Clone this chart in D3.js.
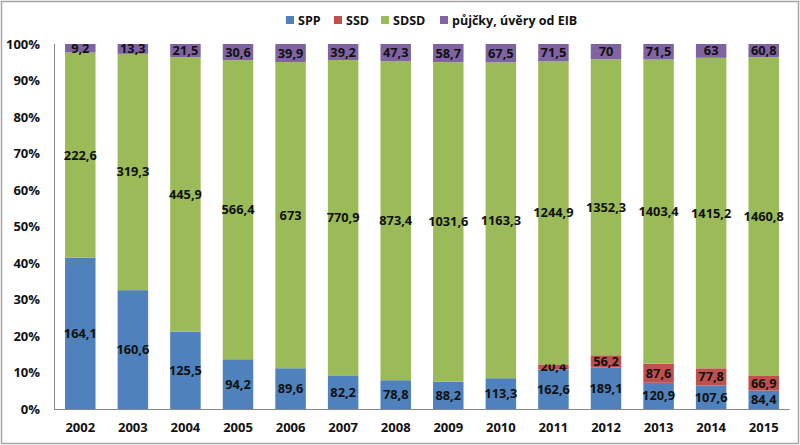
<!DOCTYPE html>
<html>
<head>
<meta charset="utf-8">
<script src="https://cdn.jsdelivr.net/npm/d3@7"></script>
<style>
	body { margin: 0; background: #fff; }
	text { font-family: "Open Sans", "DejaVu Sans", sans-serif; }
</style>
</head>
<body>
<div id="chart"></div>
<script>
// chart data
var years = ["2002", "2003", "2004", "2005", "2006", "2007", "2008", "2009", "2010", "2011", "2012", "2013", "2014", "2015"];
var spp = [164.1, 160.6, 125.5, 94.2, 89.6, 82.2, 78.8, 88.2, 113.3, 162.6, 189.1, 120.9, 107.6, 84.4];
var ssd = [0, 0, 0, 0, 0, 0, 0, 0, 0, 20.4, 56.2, 87.6, 77.8, 66.9];
var sdsd = [222.6, 319.3, 445.9, 566.4, 673, 770.9, 873.4, 1031.6, 1163.3, 1244.9, 1352.3, 1403.4, 1415.2, 1460.8];
var eib = [9.2, 13.3, 21.5, 30.6, 39.9, 39.2, 47.3, 58.7, 67.5, 71.5, 70, 71.5, 63, 60.8];
var seriesNames = ["SPP", "SSD", "SDSD", "půjčky, úvěry od EIB"];
var seriesColors = ["#4F81BD", "#C0504D", "#9BBB59", "#8064A2"];
var yTicks = [0, 0.1, 0.2, 0.3, 0.4, 0.5, 0.6, 0.7, 0.8, 0.9, 1];

var width = 800, height = 445;
var plotLeft = 54, plotRight = 790, plotTop = 44, plotBottom = 409;

var svg = d3.select("#chart").append("svg")
	.attr("width", width)
	.attr("height", height);

// outer frame
svg.append("rect")
	.attr("x", 1.5).attr("y", 1.5)
	.attr("width", width - 3).attr("height", height - 3)
	.attr("fill", "none").attr("stroke", "#a6a6a6").attr("stroke-width", 1.5);

var keys = ["spp", "ssd", "sdsd", "eib"];
var table = years.map(function (y, i) {
	return { year: y, spp: spp[i], ssd: ssd[i], sdsd: sdsd[i], eib: eib[i] };
});

var stack = d3.stack().keys(keys).offset(d3.stackOffsetExpand);
var layers = stack(table);

var x = d3.scaleBand().domain(years).range([plotLeft, plotRight]).paddingInner(0.42).paddingOuter(0.21);
var y = d3.scaleLinear().domain([0, 1]).range([plotBottom, plotTop]);

// axes
svg.append("line")
	.attr("x1", plotLeft + 0.5).attr("x2", plotLeft + 0.5)
	.attr("y1", plotTop).attr("y2", plotBottom)
	.attr("stroke", "#888");
svg.append("line")
	.attr("x1", plotLeft).attr("x2", plotRight)
	.attr("y1", plotBottom + 0.5).attr("y2", plotBottom + 0.5)
	.attr("stroke", "#888");

svg.selectAll(".ytick")
	.data(yTicks).enter().append("text")
	.attr("class", "ytick")
	.attr("x", 40)
	.attr("y", function (d) { return y(d) + 4.5; })
	.attr("text-anchor", "end")
	.attr("font-size", 13)
	.attr("font-weight", "bold")
	.attr("fill", "#111")
	.text(function (d) { return Math.round(d * 100) + "%"; });

svg.selectAll(".xtick")
	.data(years).enter().append("text")
	.attr("class", "xtick")
	.attr("x", function (d) { return x(d) + x.bandwidth() / 2; })
	.attr("y", 432)
	.attr("text-anchor", "middle")
	.attr("font-size", 13)
	.attr("font-weight", "bold")
	.attr("fill", "#111")
	.text(function (d) { return d; });

// bars
var groups = svg.selectAll(".layer")
	.data(layers).enter().append("g")
	.attr("class", "layer")
	.attr("fill", function (d, i) { return seriesColors[i]; });

groups.selectAll("rect")
	.data(function (d) { return d.filter(function (s) { return s[1] - s[0] > 0; }); })
	.enter().append("rect")
	.attr("x", function (d) { return x(d.data.year); })
	.attr("width", x.bandwidth())
	.attr("y", function (d) { return y(d[1]); })
	.attr("height", function (d) { return y(d[0]) - y(d[1]); });

groups.selectAll("text")
	.data(function (d) {
		var k = d.key;
		return d.filter(function (s) { return s[1] - s[0] > 0; })
			.map(function (s) { return { s: s, v: s.data[k] }; });
	})
	.enter().append("text")
	.attr("x", function (d) { return x(d.s.data.year) + x.bandwidth() / 2; })
	.attr("y", function (d) { return (y(d.s[0]) + y(d.s[1])) / 2 + 4.5; })
	.attr("text-anchor", "middle")
	.attr("font-size", 12.8)
	.attr("font-weight", "bold")
	.attr("fill", "#111")
	.text(function (d) { return String(d.v).replace(".", ","); });

// legend
var legendX = [286, 334, 381, 440];
var legend = svg.selectAll(".legend")
	.data(seriesNames).enter().append("g")
	.attr("class", "legend")
	.attr("transform", function (d, i) { return "translate(" + legendX[i] + ",16)"; });
legend.append("rect")
	.attr("width", 8).attr("height", 8)
	.attr("fill", function (d, i) { return seriesColors[i]; });
legend.append("text")
	.attr("x", 12).attr("y", 8.5)
	.attr("font-size", 12.5)
	.attr("font-weight", "bold")
	.attr("fill", "#111")
	.text(function (d) { return d; });
</script>
</body>
</html>
